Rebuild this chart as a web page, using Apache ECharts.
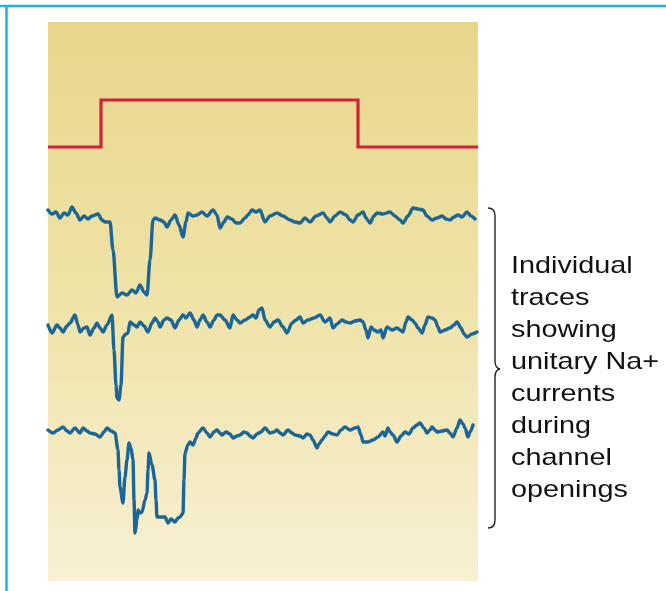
<!DOCTYPE html>
<html>
<head>
<meta charset="utf-8">
<script src="https://cdn.jsdelivr.net/npm/echarts@6/dist/echarts.min.js"></script>
<style>html,body{margin:0;padding:0;background:#fff}#c{width:666px;height:591px}</style>
</head>
<body>
<div id="c"></div>
<script>
// x: time (arbitrary units, 0-430), y: display level (arbitrary units, 0-559)
const stimulus = [[0,434],[53,434],[53,481],[310,481],[310,434],[430,434]];

const trace1Px = [[48,210],[52,214],[56,212],[60,218],[64,213],[68,215],[72,207],[76,213],[80,220],[84,216],[88,219],[92,216],[98,214],[102,220],[105,222],[110,222],[113,250],[117,297],[122,293],[127,295],[132,290],[136,293],[140,285],[144,292],[147,295],[150,260],[153,220],[155,218],[160,220],[164,222],[167,227],[171,220],[175,215],[179,225],[183,237],[186,222],[188,213],[193,216],[197,215],[202,212],[207,216],[213,210],[217,215],[220,228],[224,222],[227,217],[232,219],[236,223],[240,223],[245,218],[248,215],[252,210],[256,212],[260,210],[265,222],[270,216],[277,213],[283,216],[290,220],[295,222],[300,223],[305,218],[310,222],[316,216],[323,213],[327,218],[330,222],[335,216],[340,212],[346,215],[350,220],[353,222],[358,215],[363,212],[366,218],[370,223],[374,216],[377,213],[383,214],[390,212],[395,216],[400,220],[403,223],[408,216],[413,208],[418,209],[423,210],[427,216],[432,220],[437,218],[442,216],[446,219],[450,220],[454,217],[458,215],[462,217],[467,212],[471,216],[475,219]];

const trace2Px = [[48,325],[52,333],[57,325],[60,328],[63,332],[67,326],[70,323],[75,315],[78,325],[80,332],[84,328],[87,327],[90,335],[94,328],[97,323],[100,328],[103,332],[107,325],[112,315],[114,350],[116,385],[117,398],[119,400],[121,385],[123,337],[126,334],[128,333],[130,322],[134,325],[137,327],[140,322],[144,326],[148,332],[152,323],[155,318],[158,322],[160,327],[164,320],[167,318],[171,320],[175,328],[179,320],[183,315],[186,318],[190,313],[194,320],[197,327],[200,320],[203,315],[207,322],[210,327],[214,320],[217,315],[220,315],[225,320],[230,328],[233,315],[237,320],[240,323],[245,320],[250,317],[253,315],[256,318],[259,310],[262,308],[265,320],[270,327],[274,322],[278,320],[283,327],[287,333],[292,323],[296,320],[300,317],[303,323],[308,320],[314,318],[320,315],[325,322],[330,318],[333,328],[337,324],[342,320],[346,322],[350,323],[355,321],[360,320],[363,322],[366,330],[368,338],[371,327],[374,330],[378,332],[381,330],[383,338],[387,327],[392,330],[397,328],[400,330],[403,332],[406,322],[408,317],[412,320],[415,323],[418,328],[422,333],[425,325],[428,317],[432,318],[435,320],[438,327],[440,332],[445,330],[450,328],[454,325],[457,322],[461,328],[464,334],[467,337],[472,334],[477,332]];

const trace3Px = [[48,430],[53,433],[58,430],[63,427],[67,431],[70,433],[75,428],[80,433],[83,428],[87,431],[90,433],[95,434],[100,437],[104,432],[107,428],[111,431],[115,433],[118,450],[119,470],[120,487],[123,503],[125,477],[127,460],[129,443],[131,448],[133,460],[134,500],[135,533],[137,520],[138,510],[140,513],[142,512],[145,500],[147,493],[148,470],[149,453],[152,465],[155,480],[156,500],[157,517],[161,517],[165,517],[168,523],[171,519],[175,522],[178,518],[180,517],[183,513],[184,480],[185,453],[188,445],[190,442],[193,445],[196,438],[198,433],[203,428],[207,433],[210,437],[214,432],[217,430],[220,433],[222,435],[226,432],[230,434],[233,438],[237,436],[240,435],[244,432],[247,433],[250,436],[253,438],[257,434],[261,432],[265,428],[270,433],[274,432],[277,430],[280,433],[283,435],[288,430],[292,433],[295,435],[300,436],[303,438],[307,434],[310,435],[313,440],[317,448],[319,444],[322,440],[325,436],[328,432],[333,434],[337,435],[341,430],[345,427],[350,430],[355,428],[358,427],[361,435],[363,442],[368,442],[373,440],[378,437],[383,432],[385,436],[388,428],[390,432],[393,435],[397,442],[401,436],[405,432],[409,434],[413,428],[417,425],[420,423],[424,428],[427,433],[430,430],[432,427],[435,430],[437,432],[442,431],[447,430],[450,433],[453,437],[457,428],[460,420],[463,424],[465,428],[468,437],[470,432],[473,425]];

const labelLines = ['Individual','traces','showing','unitary Na+','currents','during','channel','openings'];

// convert read-off picture readings into data units (time, level)
const toData = arr => arr.map(p => [p[0] - 48, 581 - p[1]]);
const trace1 = toData(trace1Px);
const trace2 = toData(trace2Px);
const trace3 = toData(trace3Px);

const chart = echarts.init(document.getElementById('c'), null, {renderer:'canvas'});
const blue = '#1c6697';
const traceSeries = (d) => ({
  type:'line', data:d, symbol:'none', animation:false, silent:true,
  smooth:0.3, smoothMonotone:'x',
  lineStyle:{color:blue, width:3.4, cap:'round', join:'round'}
});
const braceStyle = {stroke:'#222', lineWidth:1.4, fill:null};
chart.setOption({
  animation:false,
  grid:{left:48, top:22, width:430, height:559, show:true, borderWidth:0,
    backgroundColor:{type:'linear', x:0, y:0, x2:0, y2:1,
      colorStops:[{offset:0,color:'#e8d68a'},{offset:0.5,color:'#efe3a8'},{offset:1,color:'#f8f0d3'}]}},
  xAxis:{type:'value', min:0, max:430, show:false},
  yAxis:{type:'value', min:0, max:559, show:false},
  series:[
    {type:'line', data:stimulus, symbol:'none', animation:false, silent:true,
      lineStyle:{color:'#d4203d', width:3.2, join:'miter'}},
    traceSeries(trace1), traceSeries(trace2), traceSeries(trace3)
  ],
  graphic:[
    {type:'line', shape:{x1:0, y1:6, x2:666, y2:6}, style:{stroke:'#10b7f3', lineWidth:2.5}},
    {type:'line', shape:{x1:6.5, y1:5, x2:6.5, y2:591}, style:{stroke:'#10b7f3', lineWidth:2.5}},
    {type:'bezierCurve', shape:{x1:488, y1:208, cpx1:495, cpy1:208, x2:495, y2:216}, style:braceStyle},
    {type:'line', shape:{x1:495, y1:216, x2:495, y2:361}, style:braceStyle},
    {type:'bezierCurve', shape:{x1:495, y1:361, cpx1:495, cpy1:368, x2:500, y2:369}, style:braceStyle},
    {type:'bezierCurve', shape:{x1:500, y1:369, cpx1:495, cpy1:370, x2:495, y2:377}, style:braceStyle},
    {type:'line', shape:{x1:495, y1:377, x2:495, y2:520}, style:braceStyle},
    {type:'bezierCurve', shape:{x1:495, y1:520, cpx1:495, cpy1:528, x2:488, y2:528}, style:braceStyle},
    {type:'text', x:511, y:250, scaleX:1.2, originX:0, originY:0,
      style:{text:labelLines.join('\n'), fontSize:24, lineHeight:32, fontFamily:'Liberation Sans', fill:'#111', verticalAlign:'top', align:'left'}}
  ]
});
</script>
</body>
</html>
